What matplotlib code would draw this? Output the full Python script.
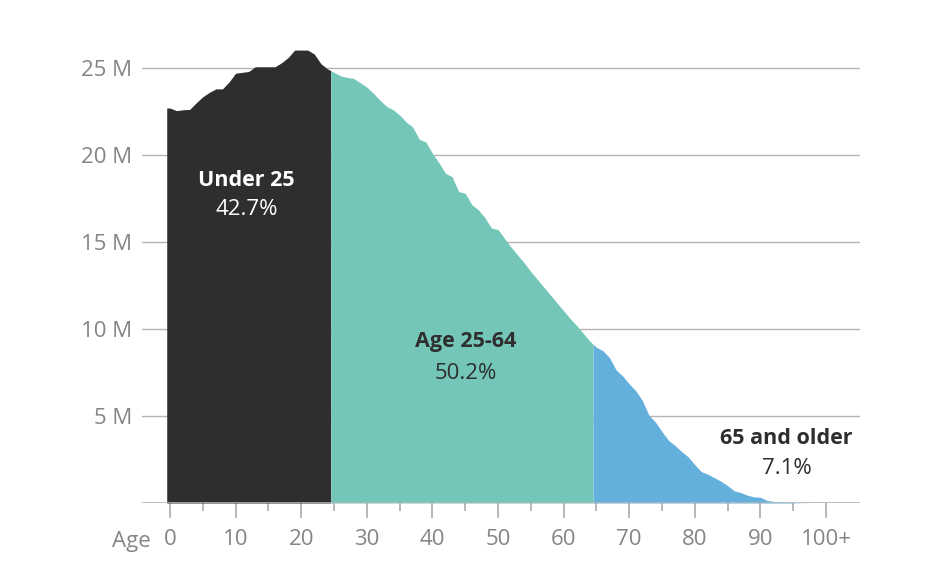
import numpy as np
import matplotlib
matplotlib.use("Agg")
import matplotlib.pyplot as plt

# ---- data (population in millions by single year of age) ----
ages = list(range(0, 101))
population_m = [
    22.70, 22.55, 22.60, 22.62, 23.00, 23.35, 23.60, 23.80, 23.80, 24.20,
    24.70, 24.75, 24.80, 25.07, 25.07, 25.07, 25.07, 25.30, 25.60, 26.03,
    26.03, 26.03, 25.80, 25.25, 24.95, 24.75, 24.55, 24.46, 24.40, 24.15,
    23.90, 23.55, 23.15, 22.80, 22.60, 22.30, 21.90, 21.60, 20.90, 20.75,
    20.10, 19.55, 18.95, 18.75, 17.90, 17.80, 17.15, 16.85, 16.40, 15.80,
    15.72, 15.20, 14.70, 14.25, 13.80, 13.30, 12.85, 12.40, 11.95, 11.50,
    11.05, 10.60, 10.20, 9.75, 9.30, 8.95, 8.75, 8.35, 7.65, 7.30,
    6.85, 6.45, 5.90, 5.05, 4.65, 4.10, 3.60, 3.30, 2.95, 2.65,
    2.20, 1.80, 1.65, 1.45, 1.25, 1.00, 0.70, 0.60, 0.45, 0.35,
    0.33, 0.15, 0.09, 0.07, 0.04, 0.02, 0.01, 0.005, 0.0, 0.0,
    0.0,
]
group_names = ["Under 25", "Age 25-64", "65 and older"]
group_shares = ["42.7%", "50.2%", "7.1%"]
group_bounds = [(0, 24), (25, 64), (65, 100)]
group_colors = ["#2d2e2d", "#74c7b8", "#63b0dc"]
group_text_colors = ["white", "#2d2e2d", "#2d2e2d"]
group_label_pos = [(11.7, 18.55, 16.85), (45.1, 9.3, 7.45), (94.0, 3.68, 2.0)]

y_ticks = [5, 10, 15, 20, 25]
y_ticklabels = ["5 M", "10 M", "15 M", "20 M", "25 M"]
x_ticks = [0, 10, 20, 30, 40, 50, 60, 70, 80, 90, 100]
x_ticklabels = ["0", "10", "20", "30", "40", "50", "60", "70", "80", "90", "100+"]

plt.rcParams['font.family'] = ['Open Sans', 'DejaVu Sans']

W, H = 929, 579
fig = plt.figure(figsize=(W / 100, H / 100), dpi=100)
px_per_year = 6.56
px_per_m = 17.4
x0_px, base_px = 170, 503
xl, xr = -4.3, 105.2
ytop = 27.0
left = (x0_px + xl * px_per_year) / W
width = (xr - xl) * px_per_year / W
bottom = (H - base_px) / H
height = ytop * px_per_m / H
ax = fig.add_axes([left, bottom, width, height])
ax.set_xlim(xl, xr)
ax.set_ylim(0, ytop)

a = np.array(ages, dtype=float)
p = np.array(population_m, dtype=float)
for (lo, hi), col in zip(group_bounds, group_colors):
    xa, xb = lo - 0.5, hi + 0.5
    inner = a[(a >= lo) & (a <= hi)]
    xs = np.concatenate([[xa], inner, [xb]])
    ys = np.interp(xs, a, p)
    ax.fill_between(xs, 0, ys, color=col, linewidth=0, zorder=2)

grid_col = "#b4b4b4"
for yv in y_ticks:
    ax.axhline(yv, color=grid_col, lw=1.0, zorder=1)
ax.axhline(0, color=grid_col, lw=1.2, zorder=3)

for s in ax.spines.values():
    s.set_visible(False)

lab_col = "#858585"
fs_tick = 16
ax.set_yticks(y_ticks)
ax.set_yticklabels(y_ticklabels)
ax.tick_params(axis='y', length=0, pad=7, labelsize=fs_tick, labelcolor=lab_col)
ax.set_xticks(x_ticks)
ax.set_xticklabels(x_ticklabels)
ax.set_xticks([5, 15, 25, 35, 45, 55, 65, 75, 85, 95], minor=True)
ax.tick_params(axis='x', which='major', length=11, width=1.2, color="#aaaaaa",
               pad=8, labelsize=fs_tick, labelcolor=lab_col)
ax.tick_params(axis='x', which='minor', length=6, width=1.2, color="#aaaaaa")

fig.text(131.5 / W, (H - 546.5) / H, "Age", ha='center', va='baseline',
         fontsize=fs_tick, color=lab_col)

for name, share, (tx, ty1, ty2), tc in zip(group_names, group_shares,
                                            group_label_pos, group_text_colors):
    ax.text(tx, ty1, name, ha='center', va='center', fontsize=15.5,
            fontweight='bold', color=tc, zorder=5)
    ax.text(tx, ty2, share, ha='center', va='center', fontsize=16,
            color=tc, zorder=5)

fig.savefig("out.png", dpi=100)
